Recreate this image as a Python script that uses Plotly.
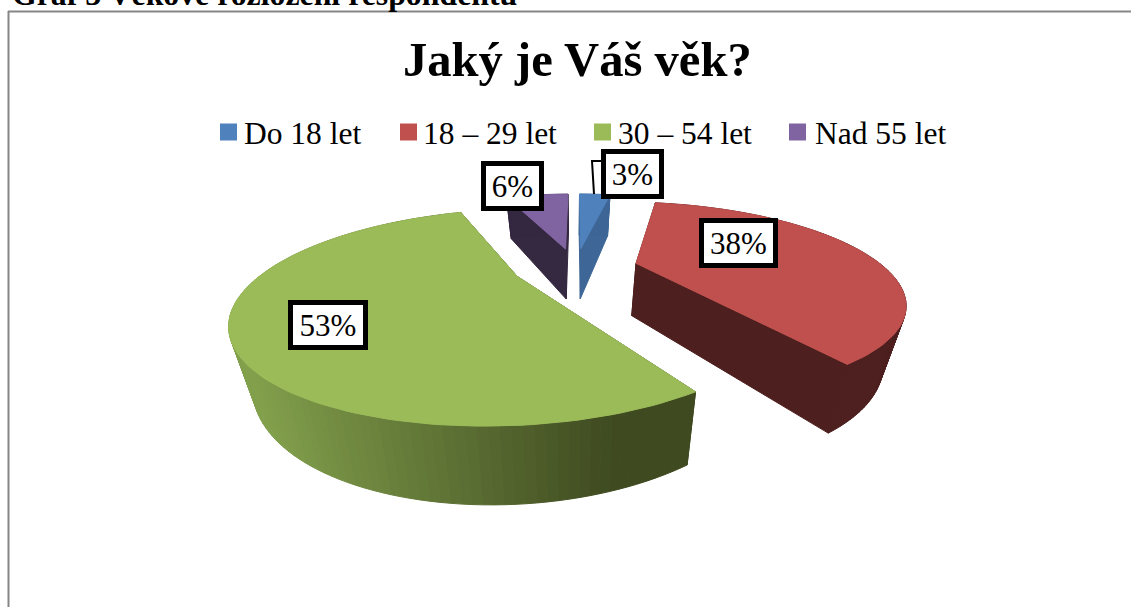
from __future__ import annotations

import numpy as np
import plotly.graph_objects as go

categories = ["Do 18 let", "18 – 29 let", "30 – 54 let", "Nad 55 let"]
shares = [3, 38, 53, 6]
share_labels = ["3%", "38%", "53%", "6%"]

top_colors = ["#4F81BD", "#C0504D", "#9BBB59", "#8064A2"]
side_colors = ["#3E6797", "#4D1F1E", "#3F4A20", "#352841"]

# perspective model of the tilted pie, fitted on the picture
CENTER_X, CENTER_Y = 575.0, 267.0
SCALE_X, SCALE_Y = 255.0, 86.0
TILT = 0.365
PULL = 0.23
DEPTH_SHRINK = 0.93
DEPTH_BASE, DEPTH_PERSP = 14.6, 38.3
# per slice correction of the model, horizontally only
x_scale = [0.92, 0.97, 0.9725, 0.93]
x_shift = [1.0, 6.0, -5.0, 0.0]

# label boxes, legend slots and leader, in page pixels
label_boxes = {"3%": (632, 174), "38%": (738, 243), "53%": (328, 325), "6%": (512, 186)}
label_widths = {"3%": 53, "38%": 69, "53%": 70, "6%": 53}
legend_keys = [228.5, 408.5, 602.5, 797.5]
legend_texts = [243, 422, 617, 814]


def project(u, v, i):
    s = 1.0 / (1.0 - TILT * v)
    x = CENTER_X + x_scale[i] * SCALE_X * u * s + x_shift[i]
    return x, CENTER_Y + SCALE_Y * v * s, s


def top_point(theta, radius, mid, i):
    u = PULL * np.sin(mid) + radius * np.sin(theta)
    v = -PULL * np.cos(mid) - radius * np.cos(theta)
    return project(u, v, i)


def bottom_of(x, y, s):
    return CENTER_X + DEPTH_SHRINK * (x - CENTER_X), y + DEPTH_BASE + DEPTH_PERSP * s


def polygon(xs, ys, color):
    return go.Scatter(
        x=xs,
        y=ys,
        mode="lines",
        fill="toself",
        fillcolor=color,
        line=dict(color=color, width=1),
        hoverinfo="skip",
        showlegend=False,
    )


def mix(a, b, t):
    ca = [int(a[i : i + 2], 16) for i in (1, 3, 5)]
    cb = [int(b[i : i + 2], 16) for i in (1, 3, 5)]
    return "rgb({},{},{})".format(*[round(p + (q - p) * t) for p, q in zip(ca, cb)])


fig = go.Figure()

edges = np.cumsum([0] + shares) / sum(shares) * 2 * np.pi
for i in [3, 0, 1, 2]:
    start, stop = edges[i], edges[i + 1]
    mid = (start + stop) / 2
    apex = top_point(start, 0.0, mid, i)
    apex_low = bottom_of(*apex)

    # the two straight walls
    for theta in (start, stop):
        p = top_point(theta, 1.0, mid, i)
        low = bottom_of(*p)
        fig.add_trace(
            polygon([apex[0], p[0], low[0], apex_low[0], apex[0]],
                    [apex[1], p[1], low[1], apex_low[1], apex[1]], side_colors[i])
        )

    # rim in narrow strips, the green slice shades across
    rim = [top_point(t, 1.0, mid, i) for t in np.linspace(start, stop, 120)]
    low_rim = [bottom_of(*r) for r in rim]
    for k in range(len(rim) - 1):
        color = side_colors[i]
        if categories[i] == "30 – 54 let":
            t = np.clip((rim[k][0] - 250) / 370, 0, 1)
            color = mix("#82A04C", side_colors[i], t)
        fig.add_trace(
            polygon([rim[k][0], rim[k + 1][0], low_rim[k + 1][0], low_rim[k][0], rim[k][0]],
                    [rim[k][1], rim[k + 1][1], low_rim[k + 1][1], low_rim[k][1], rim[k][1]], color)
        )

    # top face
    fig.add_trace(
        polygon([apex[0]] + [r[0] for r in rim] + [apex[0]],
                [apex[1]] + [r[1] for r in rim] + [apex[1]], top_colors[i])
    )

# leader of the small slice
fig.add_trace(
    go.Scatter(
        x=[594, 592, 602],
        y=[194, 161, 161],
        mode="lines",
        line=dict(color="black", width=2),
        hoverinfo="skip",
        showlegend=False,
    )
)

# legend row
for name, color, kx, tx in zip(categories, top_colors, legend_keys, legend_texts):
    fig.add_trace(
        go.Scatter(
            x=[kx],
            y=[132],
            mode="markers",
            name=name,
            marker=dict(symbol="square", size=17, color=color),
            showlegend=False,
        )
    )
    fig.add_annotation(
        x=tx,
        y=133,
        xanchor="left",
        text=name,
        showarrow=False,
        borderpad=0,
        font=dict(family="Liberation Serif", size=31.5, color="black"),
    )

for text, (bx, by) in label_boxes.items():
    fig.add_annotation(
        x=bx,
        y=by,
        text=text,
        showarrow=False,
        width=label_widths[text],
        height=40,
        bgcolor="white",
        bordercolor="black",
        borderwidth=5,
        borderpad=0,
        font=dict(family="Liberation Serif", size=31, color="black"),
    )

fig.add_annotation(
    x=577,
    y=60,
    text="<b>Jaký je Váš věk?</b>",
    showarrow=False,
    font=dict(family="Liberation Serif", size=48.6, color="black"),
)
fig.add_annotation(
    x=10,
    y=14.5,
    xanchor="left",
    yanchor="bottom",
    text="<b>Graf 3 Věkové rozložení respondentů</b>",
    showarrow=False,
    font=dict(family="Liberation Serif", size=31.8, color="black"),
)

# frame of the embedded chart, running off the page
fig.add_shape(type="line", x0=8.5, x1=8.5, y0=11, y1=607, line=dict(color="#868686", width=2))
fig.add_shape(type="line", x0=8, x1=1131, y0=11.5, y1=11.5, line=dict(color="#868686", width=2))

fig.update_layout(
    width=1131,
    height=607,
    margin=dict(l=0, r=0, t=0, b=0),
    paper_bgcolor="white",
    plot_bgcolor="white",
    xaxis=dict(range=[0, 1131], visible=False, fixedrange=True),
    yaxis=dict(range=[607, 0], visible=False, fixedrange=True),
    showlegend=False,
)

fig.write_html(
    "out.html",
    config=dict(displayModeBar=False),
    post_script="document.body.style.margin='0';",
)
